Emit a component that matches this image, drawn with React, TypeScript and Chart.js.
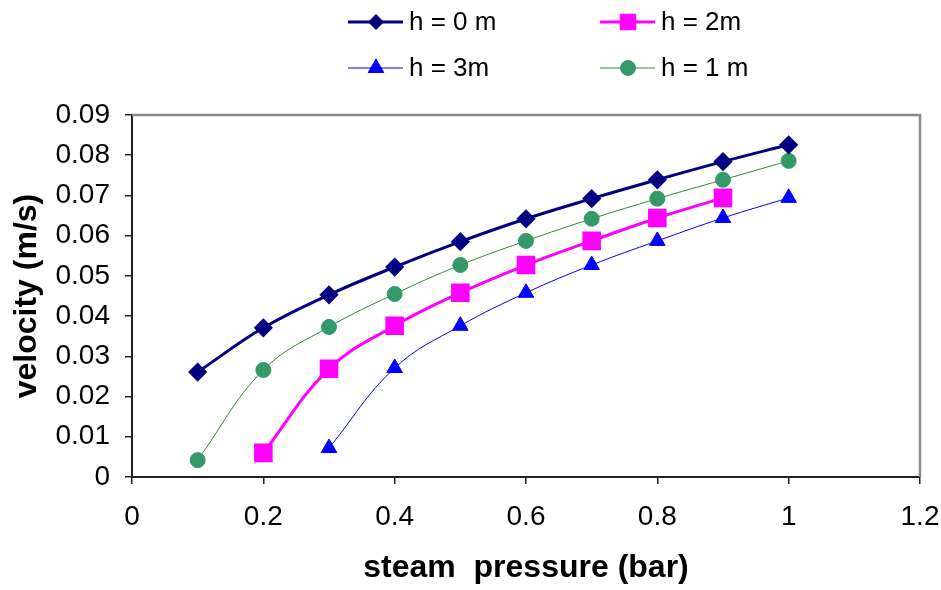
import React, { useEffect, useRef } from "react";
import { Chart, registerables } from "chart.js";
import { drawPoint } from "chart.js/helpers";

Chart.register(...registerables);

const seriesNames = ["h = 0 m", "h = 2m", "h = 3m", "h = 1 m"];
const pressure0 = [0.1, 0.2, 0.3, 0.4, 0.5, 0.6, 0.7, 0.8, 0.9, 1.0];
const velocity0 = [0.0261, 0.0371, 0.0453, 0.0522, 0.0585, 0.0642, 0.0692, 0.0739, 0.0784, 0.0826];
const pressure2 = [0.2, 0.3, 0.4, 0.5, 0.6, 0.7, 0.8, 0.9];
const velocity2 = [0.006, 0.0269, 0.0376, 0.0458, 0.0527, 0.0587, 0.0644, 0.0694];
const pressure3 = [0.3, 0.4, 0.5, 0.6, 0.7, 0.8, 0.9, 1.0];
const velocity3 = [0.0072, 0.0271, 0.0376, 0.0458, 0.0527, 0.0587, 0.0644, 0.0694];
const pressure1 = [0.1, 0.2, 0.3, 0.4, 0.5, 0.6, 0.7, 0.8, 0.9, 1.0];
const velocity1 = [0.0042, 0.0266, 0.0373, 0.0455, 0.0527, 0.0587, 0.0642, 0.0692, 0.0739, 0.0786];

const xTicks = [0, 0.2, 0.4, 0.6, 0.8, 1, 1.2];
const yTicks = [0, 0.01, 0.02, 0.03, 0.04, 0.05, 0.06, 0.07, 0.08, 0.09];

const FONT = "'Liberation Sans', Arial, sans-serif";

const toPoints = (xs: number[], ys: number[]) => xs.map((x, i) => ({ x, y: ys[i] }));

const legendPlugin = {
  id: "excelLegend",
  afterDraw(chart: any) {
    const ctx = chart.ctx;
    const cols = [348, 600];
    const rows = [22, 68];
    ctx.save();
    chart.data.datasets.forEach((ds: any, i: number) => {
      const x0 = cols[i % 2];
      const y = rows[Math.floor(i / 2)];
      ctx.strokeStyle = ds.borderColor;
      ctx.lineWidth = ds.borderWidth;
      ctx.beginPath();
      ctx.moveTo(x0, y);
      ctx.lineTo(x0 + 55, y);
      ctx.stroke();
      ctx.fillStyle = ds.pointBackgroundColor;
      ctx.strokeStyle = ds.pointBorderColor;
      ctx.lineWidth = 1;
      drawPoint(ctx, { pointStyle: ds.pointStyle, radius: ds.pointRadius, rotation: 0, borderWidth: 1 }, x0 + 28, y);
      ctx.fillStyle = "#000";
      ctx.font = `26px ${FONT}`;
      ctx.textBaseline = "middle";
      ctx.textAlign = "left";
      ctx.fillText(ds.label, x0 + 61, y + 1);
    });
    ctx.restore();
  },
};

const framePlugin = {
  id: "frame",
  beforeDatasetsDraw(chart: any) {
    const { ctx, chartArea } = chart;
    ctx.save();
    ctx.strokeStyle = "#888888";
    ctx.lineWidth = 2.5;
    ctx.beginPath();
    ctx.moveTo(chartArea.left, chartArea.top);
    ctx.lineTo(chartArea.right, chartArea.top);
    ctx.lineTo(chartArea.right, chartArea.bottom);
    ctx.stroke();
    ctx.restore();
  },
};

export default function App() {
  const ref = useRef<HTMLCanvasElement>(null);
  useEffect(() => {
    document.body.style.margin = "0";
    const canvas = ref.current!;
    const chart = new Chart(canvas, {
      type: "line",
      data: {
        datasets: [
          {
            label: seriesNames[0],
            data: toPoints(pressure0, velocity0),
            borderColor: "#000080",
            backgroundColor: "#000080",
            borderWidth: 3,
            pointStyle: "rectRot",
            pointRadius: 7.5,
            pointBackgroundColor: "#000080",
            pointBorderColor: "#000080",
            tension: 0.4,
          },
          {
            label: seriesNames[1],
            data: toPoints(pressure2, velocity2),
            borderColor: "#FF00FF",
            backgroundColor: "#FF00FF",
            borderWidth: 3,
            pointStyle: "rect",
            pointRadius: 11,
            pointBackgroundColor: "#FF00FF",
            pointBorderColor: "#FF00FF",
            tension: 0.4,
          },
          {
            label: seriesNames[2],
            data: toPoints(pressure3, velocity3),
            borderColor: "#0000FF",
            backgroundColor: "#0000FF",
            borderWidth: 1,
            pointStyle: "triangle",
            pointRadius: 9,
            pointBackgroundColor: "#0000FF",
            pointBorderColor: "#0000FF",
            tension: 0.4,
          },
          {
            label: seriesNames[3],
            data: toPoints(pressure1, velocity1),
            borderColor: "#2E8B2E",
            backgroundColor: "#339966",
            borderWidth: 1,
            pointStyle: "circle",
            pointRadius: 7.5,
            pointBackgroundColor: "#339966",
            pointBorderColor: "#339966",
            tension: 0.4,
          },
        ],
      },
      options: {
        responsive: false,
        animation: false,
        devicePixelRatio: 1,
        layout: { padding: { top: 115, right: 21, left: 0, bottom: 0 } },
        plugins: { legend: { display: false }, tooltip: { enabled: false } },
        scales: {
          x: {
            type: "linear",
            min: 0,
            max: 1.2,
            afterBuildTicks: (scale: any) => {
              scale.ticks = xTicks.map((v) => ({ value: v }));
            },
            afterFit: (scale: any) => {
              scale.height = 113;
              scale.paddingLeft = 0;
              scale.paddingRight = 0;
            },
            ticks: {
              color: "#000",
              font: { family: FONT, size: 28 },
              padding: 16,
              maxRotation: 0,
              callback: (v: any) => String(Number(Number(v).toFixed(2))),
            },
            border: { display: true, color: "#222", width: 2 },
            grid: { display: true, drawOnChartArea: false, drawTicks: true, tickLength: 7, color: "#222", lineWidth: 1.5 },
            title: {
              display: true,
              text: "steam  pressure (bar)",
              color: "#000",
              font: { family: FONT, size: 32, weight: "bold" },
              padding: { top: 0, bottom: 3 },
            },
          },
          y: {
            type: "linear",
            min: 0,
            max: 0.09,
            afterBuildTicks: (scale: any) => {
              scale.ticks = yTicks.map((v) => ({ value: v }));
            },
            afterFit: (scale: any) => {
              scale.width = 132;
              scale.paddingTop = 0;
              scale.paddingBottom = 0;
            },
            ticks: {
              color: "#000",
              font: { family: FONT, size: 28 },
              padding: 15,
              callback: (v: any) => String(Number(Number(v).toFixed(2))),
            },
            border: { display: true, color: "#222", width: 2 },
            grid: { display: true, drawOnChartArea: false, drawTicks: true, tickLength: 7, color: "#222", lineWidth: 1.5 },
            title: {
              display: true,
              text: "velocity (m/s)",
              color: "#000",
              font: { family: FONT, size: 32, weight: "bold" },
              padding: { top: 8, bottom: 0 },
            },
          },
        },
      } as any,
      plugins: [framePlugin, legendPlugin],
    });
    return () => chart.destroy();
  }, []);
  return (
    <div style={{ width: 941, height: 590, background: "#fff" }}>
      <canvas ref={ref} width={941} height={590} style={{ display: "block" }} />
    </div>
  );
}
